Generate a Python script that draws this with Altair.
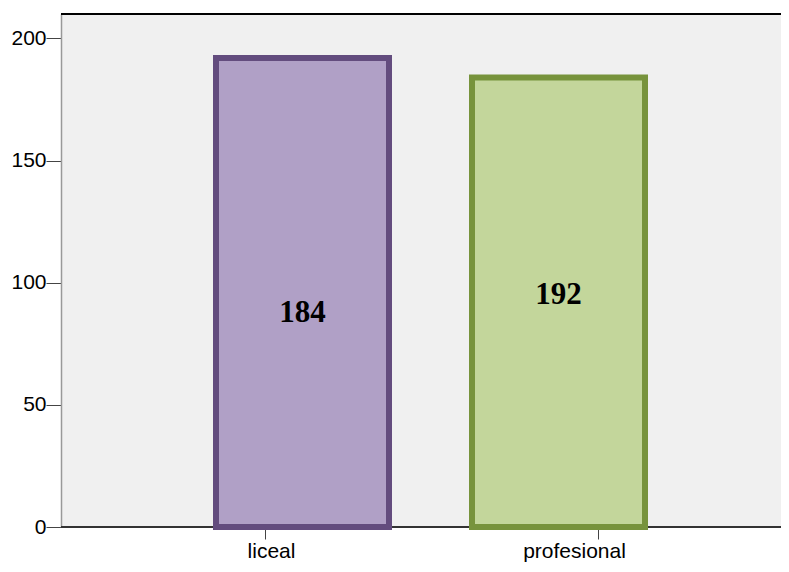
import altair as alt
import pandas as pd

categories = ["liceal", "profesional"]
bar_values = [192, 184]
bar_labels = ["184", "192"]
label_values = [87.8, 94.8]
y_ticks = [0, 50, 100, 150, 200]
y_top = 210

fill_colors = ["#B0A0C6", "#C3D69B"]
stroke_colors = ["#634C7E", "#77933C"]

df = pd.DataFrame({
    "cat": categories,
    "value": bar_values,
    "label": bar_labels,
    "label_y": label_values,
})

yscale = alt.Scale(domain=[0, y_top], nice=False, zero=True)
yaxis = alt.Axis(
    values=y_ticks, title=None, grid=False,
    labelFont="Liberation Sans", labelFontSize=21, labelColor="#000",
    tickSize=15, tickColor="#444", tickWidth=1, labelPadding=0,
    domainColor="#999", domainWidth=1.5,
)

bar_x = alt.X("cat:N", sort=categories,
              scale=alt.Scale(type="point", range=[241.5, 497.5], padding=0), axis=None)

bars = alt.Chart(df).mark_bar(strokeWidth=6, size=173).encode(
    x=bar_x,
    y=alt.Y("value:Q", scale=yscale, axis=yaxis),
    fill=alt.Fill("cat:N", scale=alt.Scale(domain=categories, range=fill_colors), legend=None),
    stroke=alt.Stroke("cat:N", scale=alt.Scale(domain=categories, range=stroke_colors), legend=None),
)

labels = alt.Chart(df).mark_text(
    font="Liberation Serif", fontSize=31, fontWeight="bold", color="#000", baseline="middle"
).encode(
    x=bar_x,
    y=alt.Y("label_y:Q", scale=yscale),
    text="label:N",
)

top_border = alt.Chart(df).mark_rule(color="#000", strokeWidth=1.8).encode(
    y=alt.datum(y_top, scale=yscale)
)
bottom_border = alt.Chart(df).mark_rule(color="#333", strokeWidth=1.8).encode(
    y=alt.datum(0, scale=yscale)
)

ticks = alt.Chart(df).mark_point(opacity=0).encode(
    x=alt.X(
        "cat:N",
        sort=categories,
        scale=alt.Scale(type="point", range=[204, 537], padding=0),
        axis=alt.Axis(
            orient="bottom", title=None, labelAngle=0, domain=False,
            labelFont="Liberation Sans", labelFontSize=21, labelColor="#000",
            tickSize=12, tickColor="#444", tickWidth=1, labelPadding=1,
            labelOffset={"condition": {"test": "datum.value === 'liceal'", "value": 6}, "value": -24},
        ),
    ),
)

chart = alt.layer(alt.layer(top_border, bottom_border, bars, labels), ticks).resolve_scale(x="independent").properties(
    width=720,
    height=513,
    autosize=alt.AutoSizeParams(type="none"),
    padding={"left": 53, "top": 6, "right": 0, "bottom": 36},
    background="#FFFFFF",
).configure_view(
    fill="#F0F0F0", stroke=None
)

chart.save("out.html", embed_options={"renderer": "svg", "actions": False})
